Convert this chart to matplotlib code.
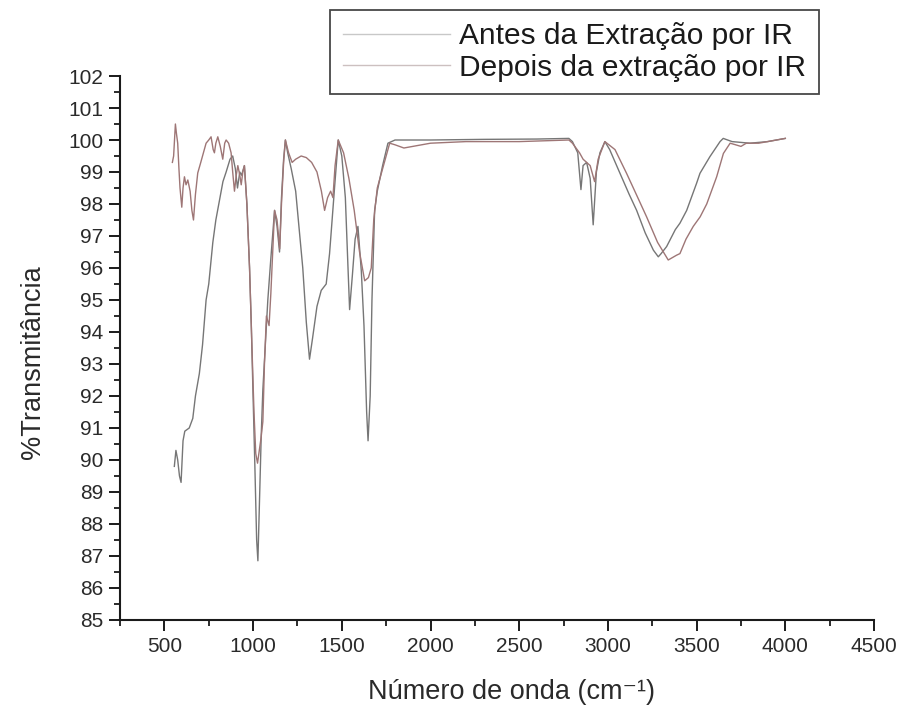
import matplotlib
matplotlib.use("Agg")
import matplotlib.pyplot as plt
from matplotlib.ticker import MultipleLocator

plt.rcParams['font.family'] = ['Liberation Sans', 'DejaVu Sans']

# Series: "Antes da Extração por IR" (wavenumber cm-1, %T)
antes_x = [556, 565, 575, 585, 594, 605, 615, 640, 660, 675, 697, 715, 735, 750, 773,
           790, 810, 830, 848, 870, 885, 900, 912, 925, 935, 951, 965, 980, 990, 998,
           1010, 1020, 1027, 1035, 1046, 1055, 1064, 1083, 1100, 1121, 1135, 1149, 1160,
           1172, 1182, 1195, 1215, 1240, 1260, 1280, 1300, 1318, 1335, 1360, 1384, 1412,
           1431, 1459, 1480, 1500, 1520, 1535, 1544, 1560, 1575, 1591, 1610, 1625, 1640,
           1648, 1660, 1670, 1685, 1700, 1730, 1760, 1800, 2000, 2300, 2600, 2780, 2800,
           2830, 2848, 2860, 2880, 2900, 2917, 2935, 2955, 2983, 3010, 3068, 3120, 3162,
           3210, 3256, 3284, 3300, 3331, 3380, 3406, 3444, 3500, 3519, 3575, 3632, 3650,
           3700, 3800, 3900, 4000]
antes_y = [89.8, 90.3, 90.0, 89.5, 89.3, 90.6, 90.9, 91.0, 91.3, 92.0, 92.7, 93.6, 95.0, 95.5, 96.8,
           97.5, 98.1, 98.7, 99.0, 99.4, 99.5, 99.1, 98.5, 99.0, 98.9, 99.2, 98.0, 96.0, 94.2, 92.4,
           89.8, 87.5, 86.85, 88.5, 90.8, 92.2, 93.1, 95.0, 96.3, 97.8, 97.3, 96.5, 98.2,
           99.4, 100.0, 99.6, 99.1, 98.4, 97.2, 96.0, 94.3, 93.15, 93.8, 94.8, 95.3, 95.5,
           96.45, 98.5, 100.0, 99.5, 98.2, 96.0, 94.7, 95.8, 96.9, 97.3, 95.9, 94.2, 91.5,
           90.6, 92.0, 95.0, 97.8, 98.4, 99.2, 99.9, 100.0, 100.0, 100.02, 100.03, 100.05, 99.95,
           99.6, 98.45, 99.2, 99.3, 98.8, 97.35, 99.0, 99.6, 99.95, 99.7, 98.96, 98.3, 97.8,
           97.1, 96.56, 96.35, 96.45, 96.67, 97.2, 97.4, 97.8, 98.65, 98.96, 99.48, 99.95, 100.05,
           99.95, 99.9, 99.95, 100.05]

# Series: "Depois da extração por IR"
depois_x = [545, 552, 562, 568, 575, 582, 588, 598, 605, 613, 622, 632, 645, 655, 664,
            675, 688, 705, 720, 735, 750, 763, 775, 782, 790, 801, 815, 829, 840, 848,
            862, 876, 885, 895, 905, 914, 925, 933, 942, 951, 965, 980, 992, 1005, 1015,
            1025, 1035, 1045, 1055, 1064, 1075, 1090, 1100, 1121, 1135, 1150, 1160, 1172,
            1182, 1200, 1220, 1240, 1271, 1300, 1330, 1360, 1385, 1403, 1420, 1437, 1450,
            1462, 1480, 1510, 1540, 1570, 1600, 1629, 1650, 1666, 1680, 1700, 1730, 1770,
            1800, 1850, 1900, 2000, 2200, 2500, 2780, 2800, 2840, 2860, 2880, 2900, 2925,
            2945, 2983, 3040, 3105, 3160, 3218, 3280, 3340, 3387, 3406, 3440, 3481, 3520,
            3557, 3613, 3651, 3689, 3720, 3750, 3780, 3850, 3950, 4000]
depois_y = [99.3, 99.5, 100.5, 100.2, 99.9, 99.1, 98.5, 97.9, 98.5, 98.85, 98.6, 98.75, 98.4, 97.8, 97.5,
            98.3, 98.97, 99.3, 99.6, 99.9, 100.0, 100.1, 99.7, 99.6, 99.9, 100.1, 99.8, 99.4, 99.9, 100.0,
            99.9, 99.6, 99.0, 98.4, 98.9, 99.2, 98.9, 98.6, 99.0, 99.2, 98.0, 96.0, 93.8, 91.5, 90.2,
            89.9, 90.3, 90.7, 91.2, 93.0, 94.5, 94.2, 95.2, 97.8, 97.5, 96.6, 98.0, 99.3,
            100.0, 99.6, 99.3, 99.4, 99.5, 99.45, 99.3, 99.0, 98.4, 97.8, 98.2, 98.4, 98.2,
            99.2, 100.0, 99.6, 98.8, 97.8, 96.5, 95.6, 95.7, 96.0, 97.5, 98.5, 99.1, 99.9,
            99.85, 99.75, 99.8, 99.9, 99.95, 99.95, 100.0, 99.9, 99.6, 99.4, 99.3, 99.2, 98.7,
            99.4, 99.95, 99.7, 98.96, 98.3, 97.6, 96.8, 96.25, 96.4, 96.45, 96.9, 97.3, 97.6,
            98.0, 98.85, 99.58, 99.9, 99.85, 99.8, 99.9, 99.9, 100.0, 100.05]

labels = ["Antes da Extração por IR", "Depois da extração por IR"]
x_ticks = [500, 1000, 1500, 2000, 2500, 3000, 3500, 4000, 4500]
y_ticks = list(range(85, 103))

fig = plt.figure(figsize=(9.06, 7.15), dpi=100)
ax = fig.add_axes([0.1325, 0.1329, 0.8322, 0.7608])

l1, = ax.plot(antes_x, antes_y, color="#767676", lw=1.0, label=labels[0])
l2, = ax.plot(depois_x, depois_y, color="#9e7676", lw=1.0, label=labels[1])

ax.set_xlim(250, 4500)
ax.set_ylim(85, 102)
ax.set_xticks(x_ticks)
ax.set_yticks(y_ticks)
ax.xaxis.set_minor_locator(MultipleLocator(250))
ax.yaxis.set_minor_locator(MultipleLocator(0.5))

for s in ["top", "right"]:
    ax.spines[s].set_visible(False)
for s in ["left", "bottom"]:
    ax.spines[s].set_linewidth(1.5)
    ax.spines[s].set_color("#1a1a1a")

ax.tick_params(which="major", direction="out", length=8, width=1.4, color="#1a1a1a",
               labelsize=15, labelcolor="#2a2a2a", pad=4)
ax.tick_params(which="minor", direction="out", length=4.5, width=1.3, color="#1a1a1a")

ax.set_xlabel("Número de onda (cm⁻¹)", fontsize=19.5, color="#2a2a2a", labelpad=17)
ax.set_ylabel("%Transmitância", fontsize=19.5, color="#2a2a2a", labelpad=16)
ax.xaxis.label.set_x(0.519)
ax.yaxis.label.set_y(0.474)

leg = ax.legend(handles=[l1, l2], loc="upper left", bbox_to_anchor=(0.279, 1.122),
                fontsize=21.5, frameon=True, fancybox=False, shadow=False,
                handlelength=3.6, handletextpad=0.3, borderpad=0.42, labelspacing=0.12,
                borderaxespad=0)
leg.get_frame().set_edgecolor("#1a1a1a")
leg.get_frame().set_linewidth(1.3)
for h, c in zip(leg.get_lines(), ["#c8c8c8", "#ccc0c0"]):
    h.set_color(c)
for t in leg.get_texts():
    t.set_color("#1a1a1a")

fig.savefig("out.png", dpi=100)
